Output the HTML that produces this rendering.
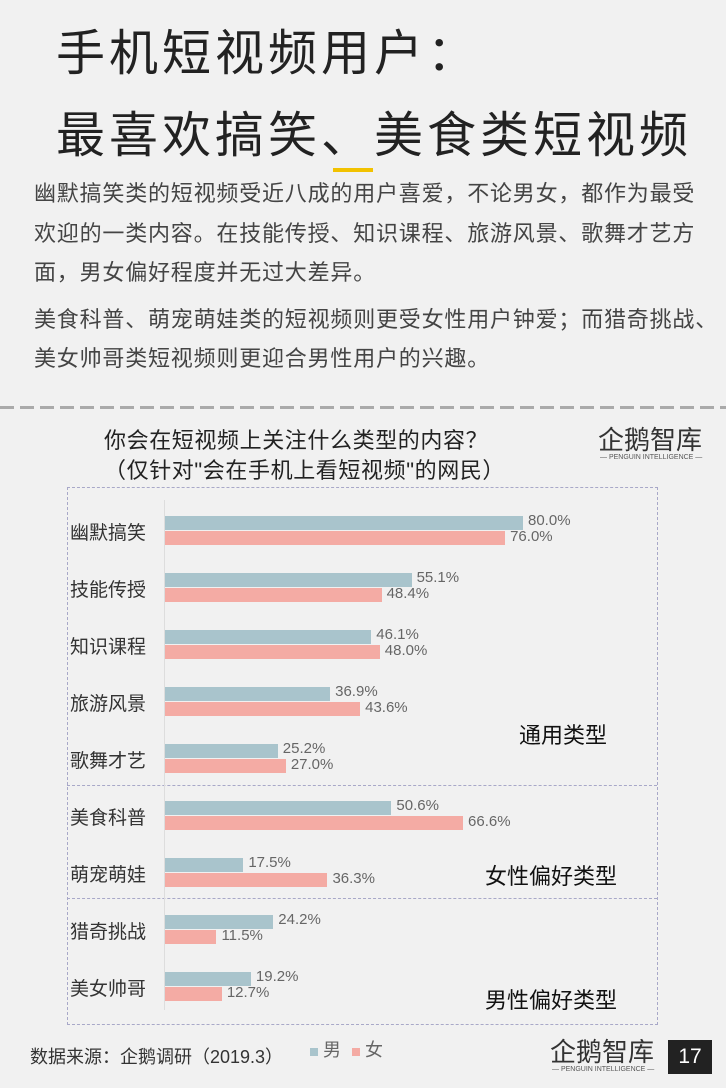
<!DOCTYPE html><html><head><meta charset="utf-8"><style>
body{margin:0;width:726px;height:1088px;background:#f1f1f1;position:relative;overflow:hidden;font-family:"Liberation Sans","Noto Sans CJK SC",sans-serif;color:#333}
.a{position:absolute;white-space:nowrap}
.t{font-size:49px;color:#222;left:56px;letter-spacing:4px}
.p{font-size:22px;color:#444;left:34px;letter-spacing:0.8px}
.lab{font-size:19px;color:#333;left:70px}
.bar{position:absolute;left:165px;height:14px}
.m{background:#a9c4cc}.f{background:#f4aba4}
.v{position:absolute;font-size:15px;color:#666}
.cat{font-size:22px;color:#111}
</style></head><body>
<div class="a t" style="top:14px">手机短视频用户：</div>
<div class="a t" style="top:96px">最喜欢搞笑、美食类短视频</div>
<div class="a" style="left:333px;top:168px;width:40px;height:4px;background:#f2c200"></div>
<div class="a p" style="top:176px">幽默搞笑类的短视频受近八成的用户喜爱，不论男女，都作为最受</div>
<div class="a p" style="top:216px">欢迎的一类内容。在技能传授、知识课程、旅游风景、歌舞才艺方</div>
<div class="a p" style="top:255px">面，男女偏好程度并无过大差异。</div>
<div class="a p" style="top:302px">美食科普、萌宠萌娃类的短视频则更受女性用户钟爱；而猎奇挑战、</div>
<div class="a p" style="top:341px">美女帅哥类短视频则更迎合男性用户的兴趣。</div>
<div class="a" style="left:0;top:406px;width:726px;height:3px;background:repeating-linear-gradient(90deg,#aaa 0 14px,transparent 14px 20px)"></div>
<div class="a" style="left:104px;top:426px;font-size:22px;color:#222;line-height:30px;letter-spacing:0.6px">你会在短视频上关注什么类型的内容？<br>（仅针对"会在手机上看短视频"的网民）</div>
<div class="a" style="left:598px;top:420px;font-size:26px;color:#333">企鹅智库</div>
<div class="a" style="left:600px;top:454px;font-size:7px;color:#555">— PENGUIN INTELLIGENCE —</div>
<div class="a" style="left:67px;top:487px;width:589px;height:536px;border:1.5px dashed #a8a8c8"></div>
<div class="a" style="left:67px;top:785px;width:590px;border-top:1.5px dashed #a8a8c8"></div>
<div class="a" style="left:67px;top:898px;width:590px;border-top:1.5px dashed #a8a8c8"></div>
<div class="a" style="left:164px;top:500px;width:1px;height:510px;background:#ddd"></div>
<div id="c"></div>
<div class="a cat" style="left:519px;top:718px">通用类型</div>
<div class="a cat" style="left:485px;top:859px">女性偏好类型</div>
<div class="a cat" style="left:485px;top:983px">男性偏好类型</div>
<div class="a" style="left:30px;top:1043px;font-size:18px;color:#333">数据来源：企鹅调研（2019.3）</div>
<div class="a" style="left:310px;top:1036px;font-size:18px;color:#666"><span style="display:inline-block;width:8px;height:8px;background:#a9c4cc"></span> 男 <span style="display:inline-block;width:8px;height:8px;background:#f4aba4;margin-left:6px"></span> 女</div>
<div class="a" style="left:550px;top:1032px;font-size:26px;color:#333">企鹅智库</div>
<div class="a" style="left:552px;top:1066px;font-size:7px;color:#555">— PENGUIN INTELLIGENCE —</div>
<div class="a" style="left:668px;top:1040px;width:44px;height:34px;background:#222;color:#fff;font-size:21px;text-align:center;line-height:34px">17</div>
<script>
var d=[["幽默搞笑",80,76],["技能传授",55.1,48.4],["知识课程",46.1,48.0],["旅游风景",36.9,43.6],["歌舞才艺",25.2,27.0],["美食科普",50.6,66.6],["萌宠萌娃",17.5,36.3],["猎奇挑战",24.2,11.5],["美女帅哥",19.2,12.7]];
var h="",k=4.475;
d.forEach(function(r,i){var y=516+i*57;
h+='<div class="a lab" style="top:'+(y+2)+'px">'+r[0]+'</div>';
h+='<div class="bar m" style="top:'+y+'px;width:'+(r[1]*k)+'px"></div>';
h+='<div class="bar f" style="top:'+(y+15)+'px;width:'+(r[2]*k)+'px"></div>';
h+='<div class="v" style="top:'+(y-4)+'px;left:'+(170+r[1]*k)+'px">'+r[1].toFixed(1)+'%</div>';
h+='<div class="v" style="top:'+(y+12)+'px;left:'+(170+r[2]*k)+'px">'+r[2].toFixed(1)+'%</div>';});
document.getElementById("c").innerHTML=h;
</script>
</body></html>
